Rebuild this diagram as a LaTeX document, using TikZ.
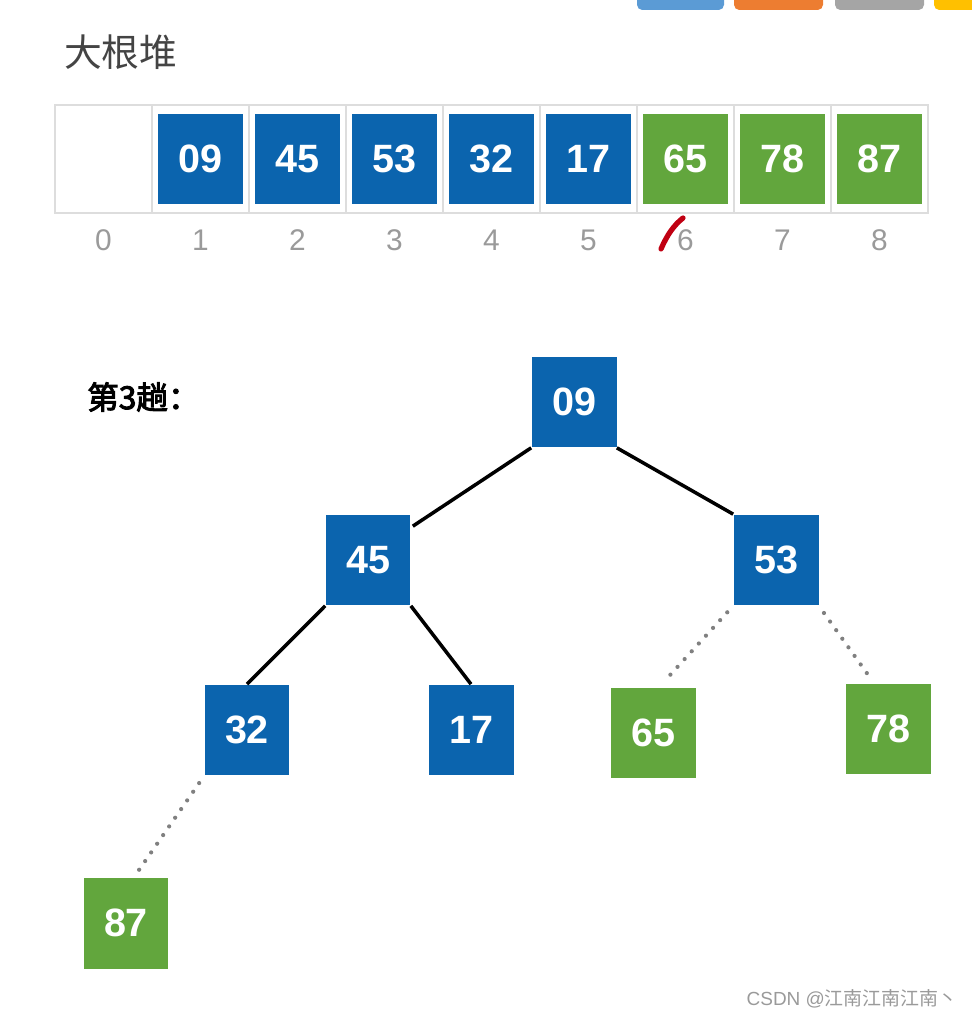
\documentclass[tikz,border=0pt]{standalone}
\usepackage{fontspec}
\setmainfont{Liberation Sans}
\newfontfamily\cjk{Noto Sans CJK SC}
\newfontfamily\cjkbold[FakeBold=3]{Noto Sans CJK SC}
\usepackage{xcolor}
\usepackage{tikz}
\usetikzlibrary{calc}
\definecolor{heapblue}{HTML}{0B64AE}
\definecolor{heapgreen}{HTML}{62A63D}
\definecolor{cellgray}{HTML}{DDDDDD}
\definecolor{idxgray}{HTML}{9A9A9A}
\definecolor{titlegray}{HTML}{444444}
\definecolor{markred}{HTML}{C00012}
\definecolor{barblue}{HTML}{5B9BD5}
\definecolor{barorange}{HTML}{ED7D31}
\definecolor{bargray}{HTML}{A5A5A5}
\definecolor{baryellow}{HTML}{FFC000}

\begin{document}
\begin{tikzpicture}[x=0.02cm,y=-0.02cm,
  key/.style={minimum width=1.7cm,minimum height=1.82cm,inner sep=0pt,text=white,font=\fontsize{22.5}{22.5}\selectfont\bfseries},
  bluekey/.style={key,fill=heapblue},
  greenkey/.style={key,fill=heapgreen},
  cell/.style={draw=cellgray,line width=1pt,minimum width=1.94cm,minimum height=2.16cm,inner sep=0pt},
  idx/.style={text=idxgray,font=\fontsize{17}{17}\selectfont},
  tree/.style={line width=2pt,black},
  later/.style={line width=2.4pt,gray,line cap=round,dash pattern=on 0pt off 6pt,shorten <=5pt,shorten >=5pt}]
\useasboundingbox (0,0) rectangle (971,1016);
\fill[barblue,rounded corners=3pt] (637,-8) rectangle (724,10);
\fill[barorange,rounded corners=3pt] (734,-8) rectangle (823,10);
\fill[bargray,rounded corners=3pt] (835,-8) rectangle (924,10);
\fill[baryellow,rounded corners=3pt] (934,-8) rectangle (990,10);
\node[anchor=west,text=titlegray,font=\cjk\fontsize{21.5}{21.5}\selectfont] (title) at (58,52) {大根堆};
\foreach \i in {0,...,8} {
  \node[cell] (c\i) at (103.5+97*\i,159) {};
  \node[idx] (i\i) at (103.5+97*\i,240) {\i};
}
\foreach \i/\v in {1/09,2/45,3/53,4/32,5/17} \node[bluekey] (a\i) at (c\i) {\v};
\foreach \i/\v in {6/65,7/78,8/87} \node[greenkey] (a\i) at (c\i) {\v};
\draw[markred,line width=3pt,line cap=round] (661,249) .. controls (667,235) and (674,225) .. (683,218);
\node[anchor=west,font=\cjkbold\fontsize{18}{18}\selectfont] (pass) at (81,397) {第3趟：};
\node[bluekey] (n09) at (574,402) {09};
\node[bluekey] (n45) at (368,560) {45};
\node[bluekey] (n53) at (776,560) {53};
\node[bluekey] (n32) at (247,730) {32};
\node[bluekey] (n17) at (471,730) {17};
\node[greenkey] (n65) at (653,733) {65};
\node[greenkey] (n78) at (888,729) {78};
\node[greenkey] (n87) at (126,923) {87};
\draw[tree] (n09.south west) -- ($(n45.north east)+(2,12)$);
\draw[tree] (n09.south east) -- (n53.north west);
\draw[tree] (n45.south west) -- (n32.north);
\draw[tree] (n45.south east) -- (n17.north);
\draw[later] (n53.south west) -- ($(n65.north)+(6,0)$);
\draw[later] (n53.south east) -- ($(n78.north)+(-14,0)$);
\draw[later] (n32.south west) -- ($(n87.north)+(8,0)$);
\node[anchor=east,text=idxgray,font=\fontsize{10.8}{10.8}\selectfont] (mark) at (964,999) {CSDN @{\cjk 江南江南江南丶}};
\end{tikzpicture}
\end{document}
